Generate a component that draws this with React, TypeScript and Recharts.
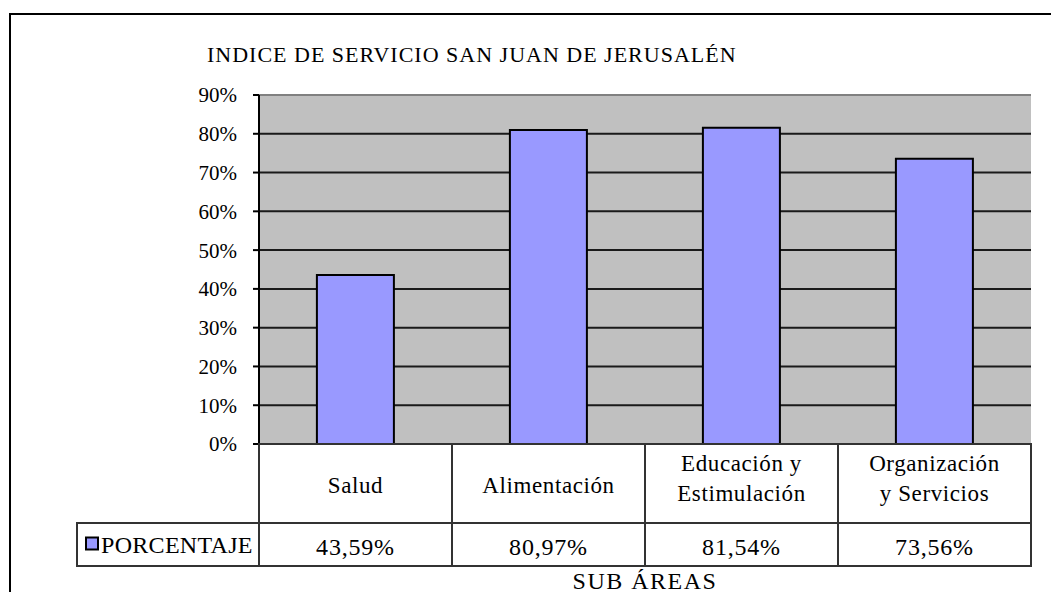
import { BarChart, Bar, XAxis, YAxis, CartesianGrid, ReferenceLine } from "recharts";

const categories = [
  "Salud",
  "Alimentación",
  "Educación y\nEstimulación",
  "Organización\ny Servicios",
];
const porcentaje = [43.59, 80.97, 81.54, 73.56];
const yTicks = [0, 10, 20, 30, 40, 50, 60, 70, 80, 90];
const seriesName = "PORCENTAJE";
const title = "INDICE DE SERVICIO SAN JUAN DE JERUSALÉN";
const xTitle = "SUB ÁREAS";

const data = categories.map((name, i) => ({ name, value: porcentaje[i] }));

// no serif face in the sandbox, this falls back to the default sans
const FONT = "'Liberation Serif', 'Times New Roman', serif";
const BAR_FILL = "#9999FF";
const CELL_STROKE = "#333333";
const CAT_ROW = 79;
const VAL_ROW = 43;

const fmtValue = (v: number) => v.toFixed(2).replace(".", ",") + "%";

// one cell of the data table's category row
const CategoryTick = (props: any) => {
  const { x, y, payload, width, visibleTicksCount } = props;
  const cw = width && visibleTicksCount ? width / visibleTicksCount : 193;
  const lines = String(payload.value).split("\n");
  const lh = 30;
  const mid = lines.length > 1 ? y + 34 : y + 41;
  const top = mid - ((lines.length - 1) * lh) / 2;
  return (
    <g>
      <rect x={x - cw / 2} y={y} width={cw} height={CAT_ROW} fill="#fff" stroke={CELL_STROKE} strokeWidth={2} />
      {lines.map((l, i) => (
        <text
          key={i}
          x={x}
          y={top + i * lh}
          textAnchor="middle"
          dominantBaseline="central"
          style={{ fontFamily: FONT }}
          fontSize={23}
          letterSpacing={0.6}
          fill="#000"
        >
          {l}
        </text>
      ))}
    </g>
  );
};

// one cell of the data table's value row (first one also draws the legend cell)
const ValueTick = (props: any) => {
  const { x, y, payload, index, width, visibleTicksCount } = props;
  const cw = width && visibleTicksCount ? width / visibleTicksCount : 193;
  const v = data[index]?.value ?? 0;
  const left = x - cw / 2;
  return (
    <g>
      {index === 0 && (
        <g>
          <rect x={left - 182} y={y} width={182} height={VAL_ROW} fill="#fff" stroke={CELL_STROKE} strokeWidth={2} />
          <rect x={left - 173} y={y + VAL_ROW / 2 - 7} width={12} height={12} fill={BAR_FILL} stroke="#000" strokeWidth={2} />
          <text
            x={left - 158}
            y={y + VAL_ROW / 2}
            dominantBaseline="central"
            style={{ fontFamily: FONT }}
            fontSize={24}
            letterSpacing={0.3}
            fill="#000"
          >
            {seriesName}
          </text>
        </g>
      )}
      <rect x={left} y={y} width={cw} height={VAL_ROW} fill="#fff" stroke={CELL_STROKE} strokeWidth={2} />
      <text
        x={x}
        y={y + VAL_ROW / 2 + 2}
        textAnchor="middle"
        dominantBaseline="central"
        style={{ fontFamily: FONT }}
        fontSize={24}
        letterSpacing={0.8}
        fill="#000"
      >
        {fmtValue(v)}
      </text>
      <title>{payload.value}</title>
    </g>
  );
};

export default function App() {
  return (
    <div
      style={{
        position: "absolute",
        left: 0,
        top: 0,
        width: 1051,
        height: 592,
        overflow: "hidden",
        background: "#fff",
      }}
    >
      <div
        style={{
          position: "absolute",
          left: 9,
          top: 13,
          width: 1200,
          height: 800,
          border: "2px solid #000",
        }}
      />
      <div
        style={{
          position: "absolute",
          left: 207,
          top: 44,
          fontFamily: FONT,
          fontSize: 22,
          lineHeight: "22px",
          letterSpacing: 1,
          whiteSpace: "nowrap",
          color: "#000",
        }}
      >
        {title}
      </div>
      <div style={{ position: "absolute", left: 0, top: 0 }}>
        <BarChart
          width={1051}
          height={592}
          data={data}
          margin={{ top: 95, right: 20, bottom: 26, left: 179 }}
          barCategoryGap="30%"
        >
          <CartesianGrid
            vertical={false}
            fill="#C0C0C0"
            fillOpacity={1}
            stroke="#1a1a1a"
            strokeWidth={2}
          />
          <XAxis
            dataKey="name"
            height={CAT_ROW}
            axisLine={false}
            tickLine={false}
            tickSize={0}
            tickMargin={0}
            interval={0}
            tick={<CategoryTick />}
          />
          <XAxis
            xAxisId="vals"
            dataKey="name"
            height={VAL_ROW}
            axisLine={false}
            tickLine={false}
            tickSize={0}
            tickMargin={0}
            interval={0}
            tick={<ValueTick />}
            label={{
              value: xTitle,
              position: "bottom",
              offset: 6,
              style: { fontFamily: FONT },
              fontSize: 24,
              letterSpacing: 1.5,
              fill: "#000",
            }}
          />
          <YAxis
            width={80}
            domain={[0, 90]}
            ticks={yTicks}
            interval={0}
            tickFormatter={(v: number) => `${v}%`}
            tick={{ style: { fontFamily: FONT }, fontSize: 21, fill: "#000" }}
            tickSize={6}
            tickMargin={16}
            axisLine={{ stroke: "#000", strokeWidth: 2 }}
            tickLine={{ stroke: "#000", strokeWidth: 2 }}
          />
          <YAxis
            yAxisId="right"
            orientation="right"
            width={0}
            domain={[0, 90]}
            tick={false}
            tickLine={false}
            axisLine={{ stroke: "#808080", strokeWidth: 2 }}
          />
          <ReferenceLine y={90} stroke="#808080" strokeWidth={2} />
          <Bar
            dataKey="value"
            name={seriesName}
            fill={BAR_FILL}
            stroke="#000"
            strokeWidth={2}
            isAnimationActive={false}
          />
        </BarChart>
      </div>
    </div>
  );
}
